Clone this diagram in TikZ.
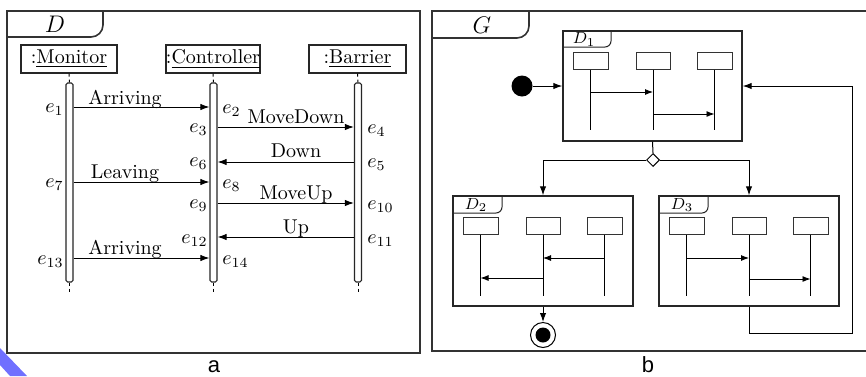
\documentclass[tikz,border=0pt]{standalone}
\usepackage{fontspec}
\newfontfamily\capfont{Liberation Sans}
\usetikzlibrary{arrows.meta,fit,shapes.geometric}
\definecolor{bandblue}{RGB}{112,112,255}
\tikzset{
 fr/.style={draw=black!80,line width=0.8pt},
 objbox/.style={draw=black!85,line width=0.7pt,inner sep=0pt,minimum height=14pt},
 actbar/.style={draw=black!85,line width=0.55pt,rounded corners=0.8pt,inner sep=0pt},
 msg/.style={line width=0.5pt,-{Latex[length=4.5pt,width=3.2pt]}},
 msglbl/.style={inner sep=0pt,anchor=base},
 evl/.style={inner sep=0pt},
 life/.style={line width=0.5pt,dash pattern=on 1.5pt off 1.5pt},
 dframe/.style={draw=black!85,line width=0.65pt,inner sep=0pt},
 dtab/.style={draw=black!85,line width=0.5pt,rounded corners=3pt},
 ibox/.style={draw=black!80,line width=0.5pt,inner sep=0pt},
 iline/.style={line width=0.45pt},
 iarr/.style={line width=0.45pt,-{Latex[length=4pt,width=3pt]}},
 conn/.style={line width=0.5pt,-{Latex[length=4.5pt,width=3.2pt]}},
 plainconn/.style={line width=0.5pt},
}
\begin{document}
\begin{tikzpicture}[x=0.5pt,y=-0.5pt]
\useasboundingbox (0,0) rectangle (866,376);
\fill[white] (0,0) rectangle (866,376);

% ---------------- panel a ----------------
\node[fr,inner sep=0pt,fit={(7,11) (420,353)}] (FD) {};
\draw[fr,rounded corners=6pt] (7,37) -- (103,37) -- (103,11);
\node[font=\large,inner sep=0pt] (Dname) at (55,24) {$D$};

\node[objbox,minimum width=48pt] (mon) at (69,59) {:\underline{Monitor}};
\node[objbox,minimum width=47pt] (con) at (213,59) {:\underline{Controller}};
\node[objbox,minimum width=48.5pt] (bar) at (357.5,59) {:\underline{Barrier}};

\node[actbar,fit={(66,83) (73,282)}] (bM) {};
\node[actbar,fit={(210,83) (217,282)}] (bC) {};
\node[actbar,fit={(354.5,83) (361.5,282)}] (bB) {};

\coordinate (eM) at (69.5,292);
\coordinate (eC) at (213.5,292);
\coordinate (eB) at (358,292);
\draw[life] (mon.south) -- (bM.north);
\draw[life] (con.south) -- (bC.north);
\draw[life] (bar.south) -- (bB.north);
\draw[life] (bM.south) -- (eM);
\draw[life] (bC.south) -- (eC);
\draw[life] (bB.south) -- (eB);

% messages
\draw[msg] (bM.east |- 0,107) -- (bC.west |- 0,107);
\draw[msg] (bC.east |- 0,127) -- (bB.west |- 0,127);
\draw[msg] (bB.west |- 0,162) -- (bC.east |- 0,162);
\draw[msg] (bM.east |- 0,182) -- (bC.west |- 0,182);
\draw[msg] (bC.east |- 0,203) -- (bB.west |- 0,203);
\draw[msg] (bB.west |- 0,237) -- (bC.east |- 0,237);
\draw[msg] (bM.east |- 0,258) -- (bC.west |- 0,258);

\node[msglbl] (l1) at (125,104) {Arriving};
\node[msglbl] (l2) at (296,123) {MoveDown};
\node[msglbl] (l3) at (296,157.5) {Down};
\node[msglbl] (l4) at (125,178) {Leaving};
\node[msglbl] (l5) at (296,199) {MoveUp};
\node[msglbl] (l6) at (296,233) {Up};
\node[msglbl] (l7) at (125,254) {Arriving};

% events
\node[evl,anchor=mid east] (e1) at (64,108) {$e_1$};
\node[evl,anchor=mid west] (e2) at (222,109) {$e_2$};
\node[evl,anchor=mid east] (e3) at (208,128) {$e_3$};
\node[evl,anchor=mid west] (e4) at (367,129) {$e_4$};
\node[evl,anchor=mid west] (e5) at (367,163) {$e_5$};
\node[evl,anchor=mid east] (e6) at (208,162) {$e_6$};
\node[evl,anchor=mid east] (e7) at (64,183) {$e_7$};
\node[evl,anchor=mid west] (e8) at (222,184) {$e_8$};
\node[evl,anchor=mid east] (e9) at (208,204) {$e_9$};
\node[evl,anchor=mid west] (e10) at (367,205) {$e_{10}$};
\node[evl,anchor=mid west] (e11) at (367,239) {$e_{11}$};
\node[evl,anchor=mid east] (e12) at (208,239) {$e_{12}$};
\node[evl,anchor=mid east] (e13) at (64,260) {$e_{13}$};
\node[evl,anchor=mid west] (e14) at (222,260) {$e_{14}$};

\node[font=\capfont\fontsize{11}{13}\selectfont,anchor=base,inner sep=0pt] (capa) at (214,372) {a};

% ---------------- panel b ----------------
\draw[fr] (872,11) -- (432,11) -- (432,351) -- (872,351);
\draw[fr,rounded corners=6pt] (432,38) -- (529,38) -- (529,11);
\node[font=\large,inner sep=0pt] (Gname) at (482,25) {$G$};

% D1
\node[dframe,fit={(563,31) (742,141)}] (D1) {};
\draw[dtab] (563,47) -- (611,47) -- (611,31);
\node[font=\footnotesize,inner sep=0pt] (D1n) at (584,39.5) {$D_1$};
\node[ibox,fit={(573,52) (608,69)}] (a1) {};
\node[ibox,fit={(636,52) (670,69)}] (a2) {};
\node[ibox,fit={(697,52) (732,69)}] (a3) {};
\coordinate (a1e) at (590.5,130);
\coordinate (a2e) at (653,130);
\coordinate (a3e) at (714.5,130);
\draw[iline] (a1.south) -- (a1e);
\draw[iline] (a2.south) -- (a2e);
\draw[iline] (a3.south) -- (a3e);
\draw[iarr] (a1.south |- 0,92) -- (a2.south |- 0,92);
\draw[iarr] (a2.south |- 0,114) -- (a3.south |- 0,114);

% D2
\node[dframe,fit={(453,196) (633,306)}] (D2) {};
\draw[dtab] (453,213) -- (502,213) -- (502,196);
\node[font=\footnotesize,inner sep=0pt] (D2n) at (476,205) {$D_2$};
\node[ibox,fit={(463,217) (498,234)}] (b1) {};
\node[ibox,fit={(526,217) (560,234)}] (b2) {};
\node[ibox,fit={(587,217) (622,234)}] (b3) {};
\coordinate (b1e) at (480.5,296);
\coordinate (b2e) at (543,296);
\coordinate (b3e) at (604.5,296);
\draw[iline] (b1.south) -- (b1e);
\draw[iline] (b2.south) -- (b2e);
\draw[iline] (b3.south) -- (b3e);
\draw[iarr] (b3.south |- 0,258) -- (b2.south |- 0,258);
\draw[iarr] (b2.south |- 0,278) -- (b1.south |- 0,278);

% D3
\node[dframe,fit={(659,196) (839,306)}] (D3) {};
\draw[dtab] (659,213) -- (708,213) -- (708,196);
\node[font=\footnotesize,inner sep=0pt] (D3n) at (682,205) {$D_3$};
\node[ibox,fit={(669,217) (704,234)}] (c1) {};
\node[ibox,fit={(732,217) (766,234)}] (c2) {};
\node[ibox,fit={(793,217) (828,234)}] (c3) {};
\coordinate (c1e) at (686.5,296);
\coordinate (c2e) at (749,296);
\coordinate (c3e) at (810.5,296);
\draw[iline] (c1.south) -- (c1e);
\draw[iline] (c2.south) -- (c2e);
\draw[iline] (c3.south) -- (c3e);
\draw[iarr] (c1.south |- 0,258) -- (c2.south |- 0,258);
\draw[iarr] (c2.south |- 0,279) -- (c3.south |- 0,279);

% control flow
\node[circle,fill=black,minimum size=10.5pt,inner sep=0pt] (init) at (522,86) {};
\draw[conn] (init) -- (D1);
\node[diamond,draw=black,fill=white,line width=0.5pt,minimum width=6.5pt,minimum height=6.5pt,inner sep=0pt] (dec) at (653,160) {};
\draw[plainconn] (D1.south) -- (dec.north);
\draw[conn] (dec.west) -| (D2.north);
\draw[conn] (dec.east) -| (D3.north);
\node[circle,draw=black,line width=0.5pt,minimum size=12.5pt,inner sep=0pt] (fin) at (543,335) {};
\node[circle,fill=black,minimum size=7.5pt,inner sep=0pt] (finin) at (fin) {};
\draw[conn] (D2.south) -- (fin.north);
\coordinate (fbA) at (852,333);
\draw[conn] (D3.south) |- (fbA) |- (D1.east);

\node[font=\capfont\fontsize{11}{13}\selectfont,anchor=base,inner sep=0pt] (capb) at (648,372) {b};

% blue corner band
\fill[bandblue] (0,348) -- (27,376) -- (10,376) -- (0,365) -- cycle;
\end{tikzpicture}
\end{document}
